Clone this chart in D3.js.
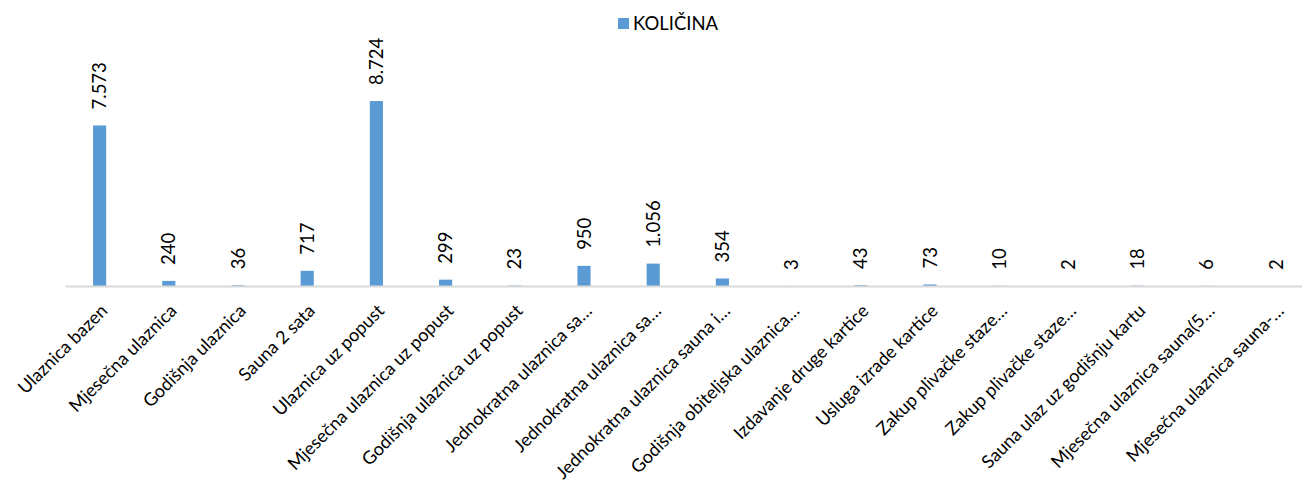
<!DOCTYPE html>
<html>
<head>
<meta charset="utf-8">
<script src="https://cdn.jsdelivr.net/npm/d3@7"></script>
<style>
  html, body { margin: 0; padding: 0; background: #fff; }
  svg { display: block; }
  text { font-family: Lato, "Open Sans", sans-serif; fill: #000; }
</style>
</head>
<body>
<svg id="chart" width="1302" height="482"></svg>
<script>
const categories = [
  "Ulaznica bazen",
  "Mjesečna ulaznica",
  "Godišnja ulaznica",
  "Sauna 2 sata",
  "Ulaznica uz popust",
  "Mjesečna ulaznica uz popust",
  "Godišnja ulaznica uz popust",
  "Jednokratna ulaznica sa…",
  "Jednokratna ulaznica sa…",
  "Jednokratna ulaznica sauna i…",
  "Godišnja obiteljska ulaznica…",
  "Izdavanje druge kartice",
  "Usluga izrade kartice",
  "Zakup plivačke staze…",
  "Zakup plivačke staze…",
  "Sauna ulaz uz godišnju kartu",
  "Mjesečna ulaznica sauna(5…",
  "Mjesečna ulaznica sauna-…"
];
const kolicina = [7573, 240, 36, 717, 8724, 299, 23, 950, 1056, 354, 3, 43, 73, 10, 2, 18, 6, 2];
const seriesName = "KOLIČINA";
const yDomain = [0, 10000];

const svg = d3.select("#chart");
const color = "#5B9BD5";
const baseY = 286;
const left = 65;
const step = 69.2;

const x = d3.scaleBand()
  .domain(d3.range(categories.length))
  .range([left, left + step * categories.length])
  .paddingInner(0.81)
  .paddingOuter(0.405);

const y = d3.scaleLinear().domain(yDomain).range([baseY, 74]);

const locale = d3.formatLocale({ decimal: ",", thousands: ".", grouping: [3], currency: ["", ""] });
const fmt = locale.format(",d");

// bars
svg.append("g").selectAll("rect")
  .data(kolicina)
  .join("rect")
  .attr("x", (d, i) => x(i))
  .attr("width", x.bandwidth())
  .attr("y", d => y(d))
  .attr("height", d => baseY - y(d))
  .attr("fill", color);

// axis line
const xAxis = d3.axisBottom(x).tickSize(0).tickFormat("");
const ax = svg.append("g").attr("transform", `translate(0,${baseY})`).call(xAxis);
ax.select(".domain").attr("stroke", "#D9D9D9").attr("stroke-width", 2);
ax.selectAll(".tick").remove();

// category labels
svg.append("g").selectAll("text")
  .data(categories)
  .join("text")
  .attr("transform", (d, i) => `translate(${x(i) + x.bandwidth() / 2 + 9},${baseY + 26}) rotate(-45)`)
  .attr("text-anchor", "end")
  .attr("font-size", 18)
  .text(d => d);

// value labels
svg.append("g").selectAll("text")
  .data(kolicina)
  .join("text")
  .attr("transform", (d, i) => `translate(${x(i) + x.bandwidth() / 2},${y(d) - 16}) rotate(-90)`)
  .attr("text-anchor", "start")
  .attr("dy", "0.36em")
  .attr("font-size", 18.5)
  .text(d => fmt(d));

// legend
const lg = svg.append("g").attr("transform", "translate(618,18)");
lg.append("rect").attr("width", 11).attr("height", 11).attr("fill", color);
lg.append("text").attr("x", 15).attr("y", 5.5).attr("dy", "0.36em").attr("font-size", 18.5).text(seriesName);
</script>
</body>
</html>
